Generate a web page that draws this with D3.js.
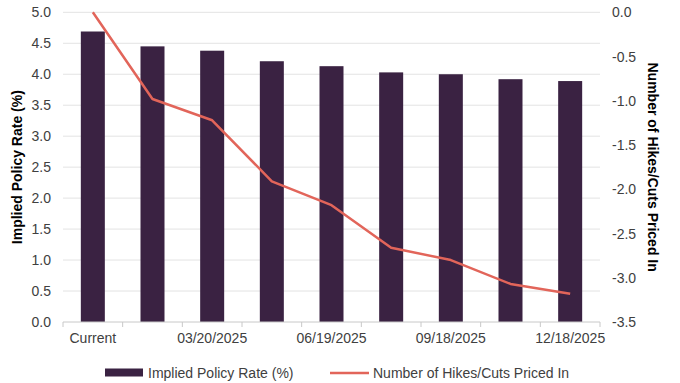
<!DOCTYPE html>
<html><head><meta charset="utf-8">
<script src="https://cdn.jsdelivr.net/npm/d3@7"></script>
<style>body{margin:0;background:#fff}svg{display:block;font-family:"Liberation Sans",Arial,sans-serif}</style>
</head><body><svg id="c" width="680" height="383"></svg>
<script>
const categories = ["Current","01/30/2025","03/20/2025","05/08/2025","06/19/2025","07/31/2025","09/18/2025","10/30/2025","12/18/2025"];
const shownLabels = ["Current","03/20/2025","06/19/2025","09/18/2025","12/18/2025"];
const impliedRate = [4.69,4.45,4.38,4.21,4.13,4.03,4.00,3.92,3.89];
const hikesCuts = [0.0,-0.98,-1.22,-1.91,-2.18,-2.66,-2.80,-3.07,-3.18];
const leftTicks = [0,0.5,1,1.5,2,2.5,3,3.5,4,4.5,5];
const rightTicks = [0,-0.5,-1,-1.5,-2,-2.5,-3,-3.5];
const seriesNames = ["Implied Policy Rate (%)","Number of Hikes/Cuts Priced In"];

const svg = d3.select("#c");
const m = {l:63, r:600, t:12.3, b:322};
const x = d3.scaleBand().domain(categories).range([m.l,m.r]).paddingInner(0.6).paddingOuter(0.3);
const xb = d3.scaleBand().domain(categories).range([m.l,m.r]);
const yL = d3.scaleLinear().domain([0,5]).range([m.b,m.t]);
const yR = d3.scaleLinear().domain([-3.5,0]).range([m.b,m.t]);
const barColor = "#3a2242", lineColor = "#e2655a";

// gridlines
svg.append("g").selectAll("line").data(leftTicks.filter(d=>d>0)).join("line")
  .attr("x1",m.l).attr("x2",m.r).attr("y1",d=>yL(d)).attr("y2",d=>yL(d))
  .attr("stroke","#e3e3e3").attr("stroke-width",1);

// bars
svg.append("g").selectAll("rect").data(impliedRate).join("rect")
  .attr("x",(d,i)=>xb(categories[i])+xb.bandwidth()/2-12)
  .attr("width",24)
  .attr("y",d=>yL(d)).attr("height",d=>m.b-yL(d)).attr("fill",barColor);

// x axis baseline & ticks
const gx = svg.append("g").attr("transform",`translate(0,${m.b})`);
gx.append("line").attr("x1",m.l).attr("x2",m.r).attr("stroke","#c8c8c8");
const bounds = categories.map(c=>xb(c)).concat([m.r]);
gx.selectAll("line.t").data(bounds).join("line").attr("class","t")
  .attr("x1",d=>d).attr("x2",d=>d).attr("y1",0).attr("y2",5).attr("stroke","#c8c8c8");
gx.selectAll("text").data(categories.filter(c=>shownLabels.includes(c))).join("text")
  .attr("x",d=>xb(d)+xb.bandwidth()/2).attr("y",21).attr("text-anchor","middle")
  .attr("font-size",14).attr("fill","#404040").text(d=>d);

// left axis
svg.append("g").selectAll("text").data(leftTicks).join("text")
  .attr("x",51).attr("y",d=>yL(d)+5).attr("text-anchor","end")
  .attr("font-size",14).attr("fill","#404040").text(d=>d3.format(".1f")(d));
// right axis
svg.append("g").selectAll("text").data(rightTicks).join("text")
  .attr("x",612).attr("y",d=>yR(d)+5).attr("text-anchor","start")
  .attr("font-size",14).attr("fill","#404040").text(d=>d3.format(".1f")(d).replace("−","-"));

// line
const line = d3.line().x((d,i)=>xb(categories[i])+xb.bandwidth()/2).y(d=>yR(d));
svg.append("path").datum(hikesCuts).attr("d",line).attr("fill","none")
  .attr("stroke",lineColor).attr("stroke-width",2.5).attr("stroke-linejoin","round");

// axis titles
svg.append("text").attr("transform",`translate(22,${(m.t+m.b)/2}) rotate(-90)`)
  .attr("text-anchor","middle").attr("font-size",14).attr("font-weight","bold").attr("fill","#000")
  .text(seriesNames[0]);
svg.append("text").attr("transform",`translate(648,${(m.t+m.b)/2}) rotate(90)`)
  .attr("text-anchor","middle").attr("font-size",14).attr("font-weight","bold").attr("fill","#000")
  .text(seriesNames[1]);

// legend
const lg = svg.append("g");
lg.append("rect").attr("x",105).attr("y",368.5).attr("width",38).attr("height",8).attr("fill",barColor);
lg.append("text").attr("x",148).attr("y",378).attr("font-size",14).attr("fill","#404040").text(seriesNames[0]);
lg.append("line").attr("x1",330).attr("x2",369).attr("y1",373).attr("y2",373).attr("stroke",lineColor).attr("stroke-width",2.5);
lg.append("text").attr("x",373).attr("y",378).attr("font-size",14).attr("fill","#404040").text(seriesNames[1]);
</script></body></html>
